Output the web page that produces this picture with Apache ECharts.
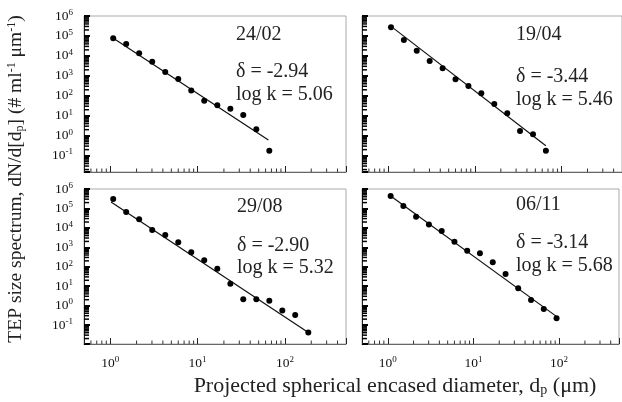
<!DOCTYPE html>
<html>
<head>
<meta charset="utf-8">
<script src="https://cdn.jsdelivr.net/npm/echarts@6/dist/echarts.min.js"></script>
<style>
  html, body { margin: 0; padding: 0; background: #fff; }
  #chart { width: 622px; height: 402px; }
</style>
</head>
<body>
<div id="chart"></div>
<script>
// size bins (projected spherical encased diameter, µm), shared by the samples
const sizeBins = [1.08, 1.52, 2.14, 3.02, 4.26, 6.0, 8.45, 11.9, 16.8, 23.7, 33.3, 47.0, 66.2, 93.3, 131, 185];

const panelNames = ['24/02', '19/04', '29/08', '06/11'];
const deltas = ['-2.94', '-3.44', '-2.90', '-3.14'];
const logKs = ['5.06', '5.46', '5.32', '5.68'];

// dN/d[dp] (# ml-1 µm-1), one value per size bin
const spec2402 = [75900, 39800, 13500, 5130, 1550, 692, 182, 56.2, 33.1, 22.4, 11.0, 2.09, 0.178];
const spec1904 = [269000, 63100, 18200, 5500, 2400, 676, 309, 135, 38.9, 13.2, 1.74, 1.17, 0.178];
const spec2908 = [309000, 66100, 27500, 7760, 4270, 1820, 562, 214, 77.6, 13.2, 2.09, 2.09, 1.78, 0.55, 0.331, 0.0407];
const spec0611 = [437000, 135000, 37200, 15100, 6920, 1950, 661, 490, 170, 42.7, 7.76, 1.95, 0.661, 0.224];

// fitted power law lines, end points [dp, dN/d[dp]]
const fit2402 = [[1.02, 91200], [64.6, 0.603]];
const fit1904 = [[1.16, 240000], [66.1, 0.316]];
const fit2908 = [[1.02, 214000], [178, 0.0457]];
const fit0611 = [[1.12, 389000], [93.8, 0.269]];

// minor (log) ticks
const xMinorTicks = [0.6, 0.7, 0.8, 0.9, 2, 3, 4, 5, 6, 7, 8, 9, 20, 30, 40, 50, 60, 70, 80, 90, 200, 300, 400];
const yMantissas = [2, 3, 4, 5, 6, 7, 8, 9];
const yDecades = [-2, -1, 0, 1, 2, 3, 4, 5];

const specs = [spec2402, spec1904, spec2908, spec0611];
const fits = [fit2402, fit1904, fit2908, fit0611];

const xMin = 0.5;
const xMax = 500;
const yMins = [0.0151, 0.0151, 0.0105, 0.0105];
const yMax = 1e6;

const grids = [
  { left: 84, top: 16, width: 262, height: 156 },
  { left: 362, top: 16, width: 264, height: 156 },
  { left: 84, top: 189, width: 262, height: 155 },
  { left: 362, top: 189, width: 264, height: 155 }
];

// label text positions (left x, centre y for the three lines)
const notePos = [
  [236, 35, 72, 95],
  [516, 35, 77, 100],
  [237, 207, 246, 268],
  [516, 205, 243, 266]
];

const serif = 'Liberation Serif';

function powLabel (v) {
  const e = Math.log10(v);
  if (Math.abs(e - Math.round(e)) > 1e-6) return '';
  return '{b|10}{s|' + Math.round(e) + '}';
}

const powRich = {
  b: { fontSize: 13.5, fontFamily: serif, color: '#111' },
  s: { fontSize: 9, fontFamily: serif, color: '#111', padding: [0, 0, 7, 0] }
};

const myChart = echarts.init(document.getElementById('chart'));

const xAxes = [];
const yAxes = [];
const series = [];
const graphics = [];

for (let i = 0; i < 4; i++) {
  const isLeft = i % 2 === 0;
  const isBottom = i >= 2;
  const yMin = yMins[i];

  xAxes.push({
    gridIndex: i,
    type: 'log',
    logBase: 10,
    min: xMin,
    max: xMax,
    axisLine: { lineStyle: { color: '#666', width: 1 } },
    axisTick: { inside: true, length: 6, lineStyle: { color: '#222' } },
    axisLabel: {
      show: isBottom,
      margin: 11,
      formatter: powLabel,
      rich: powRich
    },
    splitLine: { show: false }
  });

  yAxes.push({
    gridIndex: i,
    type: 'log',
    logBase: 10,
    min: yMin,
    max: yMax,
    splitNumber: 8,
    axisLine: { lineStyle: { color: '#222', width: 1 } },
    axisTick: { inside: true, length: 6, lineStyle: { color: '#000', width: 2 } },
    axisLabel: {
      show: isLeft,
      margin: 11,
      formatter: powLabel,
      rich: powRich
    },
    splitLine: { show: false }
  });

  series.push({
    type: 'scatter',
    xAxisIndex: i,
    yAxisIndex: i,
    symbolSize: 6,
    itemStyle: { color: '#000', opacity: 1 },
    data: specs[i].map((v, j) => [sizeBins[j], v]),
    z: 4
  });

  series.push({
    type: 'line',
    xAxisIndex: i,
    yAxisIndex: i,
    symbol: 'none',
    lineStyle: { color: '#111', width: 1.2 },
    data: fits[i],
    z: 3
  });

  // minor ticks along the bottom axis
  series.push({
    type: 'custom',
    xAxisIndex: i,
    yAxisIndex: i,
    silent: true,
    data: xMinorTicks.map(v => [v, yMin]),
    renderItem: function (params, api) {
      const p = api.coord([api.value(0), api.value(1)]);
      return {
        type: 'line',
        shape: { x1: p[0], y1: p[1], x2: p[0], y2: p[1] - 3.5 },
        style: { stroke: '#333', lineWidth: 1 }
      };
    }
  });

  // minor ticks along the left axis
  const yMinor = [];
  yDecades.forEach(d => {
    yMantissas.forEach(m => {
      const v = m * Math.pow(10, d);
      if (v > yMin && v < yMax) yMinor.push([xMin, v]);
    });
  });
  series.push({
    type: 'custom',
    xAxisIndex: i,
    yAxisIndex: i,
    silent: true,
    data: yMinor,
    renderItem: function (params, api) {
      const p = api.coord([api.value(0), api.value(1)]);
      return {
        type: 'line',
        shape: { x1: p[0], y1: p[1], x2: p[0] + 5, y2: p[1] },
        style: { stroke: '#000', lineWidth: 1.5 }
      };
    }
  });

  const np = notePos[i];
  const noteStyle = { fontSize: 20, fontFamily: serif, fill: '#222', align: 'left', verticalAlign: 'middle' };
  graphics.push({
    type: 'text', x: np[0], y: np[1],
    style: Object.assign({ text: panelNames[i] }, noteStyle)
  });
  graphics.push({
    type: 'text', x: np[0], y: np[2],
    style: Object.assign({ text: 'δ = ' + deltas[i] }, noteStyle)
  });
  graphics.push({
    type: 'text', x: np[0], y: np[3],
    style: Object.assign({ text: 'log k = ' + logKs[i] }, noteStyle)
  });
}

// axis titles
graphics.push({
  type: 'text',
  x: 16,
  y: 179,
  rotation: Math.PI / 2,
  style: {
    text: 'TEP size spectrum, dN/d[d{sub|p}] (# ml{sup|-1}{n| }μm{sup|-1})',
    fontSize: 19.5,
    fontFamily: serif,
    fill: '#222',
    align: 'center',
    verticalAlign: 'middle',
    rich: {
      sub: { fontSize: 12, fontFamily: serif, fill: '#222', padding: [7, 0, 0, 0] },
      sup: { fontSize: 12, fontFamily: serif, fill: '#222', padding: [0, 0, 8, 0] },
      n: { fontSize: 19.5, fontFamily: serif, fill: '#222' }
    }
  }
});
graphics.push({
  type: 'text',
  x: 395,
  y: 386,
  style: {
    text: 'Projected spherical encased diameter, d{sub|p} (μm)',
    fontSize: 22,
    fontFamily: serif,
    fill: '#222',
    align: 'center',
    verticalAlign: 'middle',
    rich: {
      sub: { fontSize: 14, fontFamily: serif, fill: '#222', padding: [9, 0, 0, 0] }
    }
  }
});

myChart.setOption({
  animation: false,
  backgroundColor: '#fff',
  grid: grids.map(g => Object.assign({ show: true, borderColor: '#aaa', borderWidth: 1, backgroundColor: 'transparent' }, g)),
  xAxis: xAxes,
  yAxis: yAxes,
  series: series,
  graphic: graphics
});

window.addEventListener('resize', function () {
  myChart.resize();
});
</script>
</body>
</html>
